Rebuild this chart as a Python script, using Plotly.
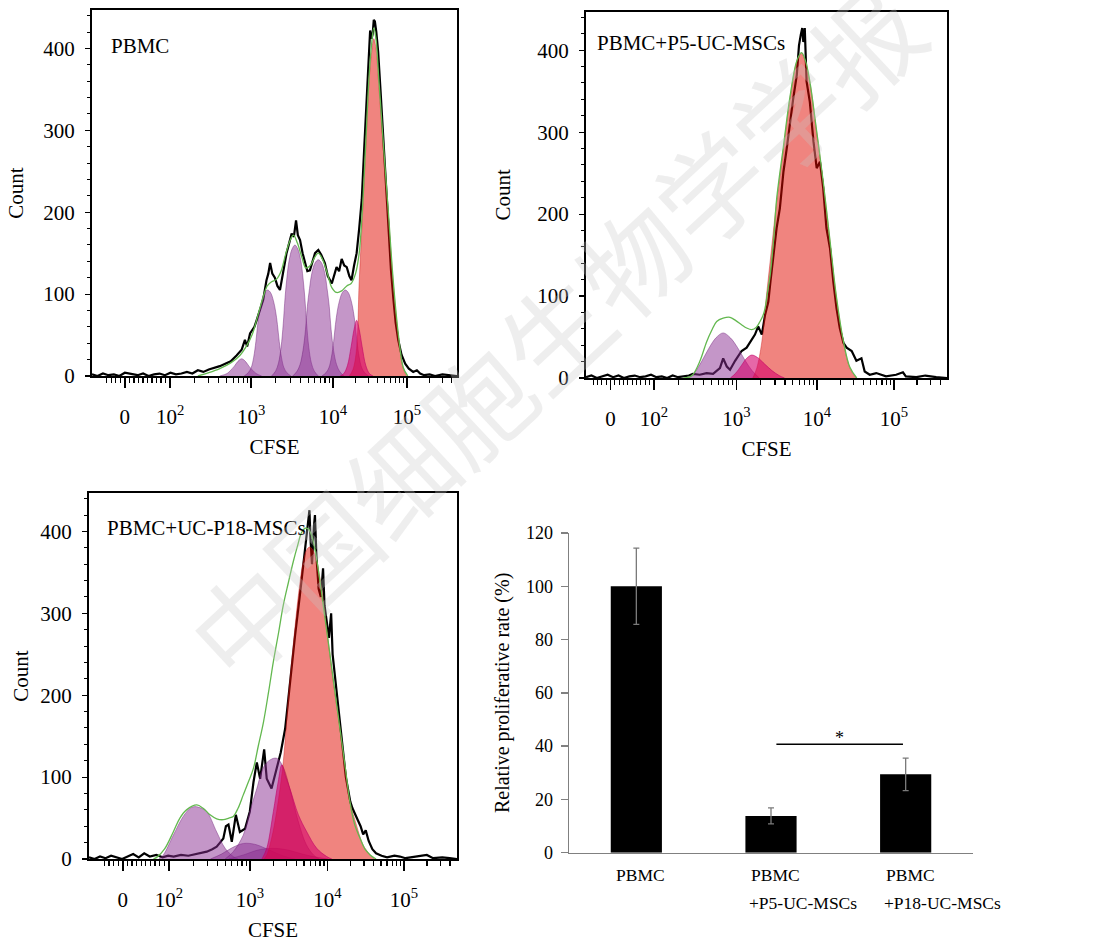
import numpy as np
import plotly.graph_objects as go

W, H = 1101, 942
FONT = "Liberation Serif"

# ---------------- DATA (display channel 0-1000 on CFSE axis, Count) ----------------
tick_text = ["0", "10<sup>2</sup>", "10<sup>3</sup>", "10<sup>4</sup>", "10<sup>5</sup>"]
p1_tick_pos = [90, 214, 436, 660, 863]
p2_tick_pos = [68, 188, 417, 640, 853]
p3_tick_pos = [92, 217, 437, 648, 856]

panel_labels = ["PBMC", "PBMC+P5-UC-MSCs", "PBMC+UC-P18-MSCs"]

# Panel 1: PBMC
p1_black = [(0,2),(15,0),(30,3),(45,1),(60,2),(75,0),(90,4),(110,2),(125,1),(140,3),(155,0),(170,2),
            (185,3),(200,1),(215,4),(230,2),(245,3),(260,5),(275,3),(290,7),(305,5),(320,8),(335,10),
            (350,12),(365,15),(380,18),(396,25),(410,32),(419,44),(425,36),(433,52),(445,60),(451,68),
            (460,80),(469,93),(478,117),(483,125),(488,138),(494,125),(501,120),(508,110),(515,105),
            (524,128),(533,150),(540,162),(547,174),(553,170),(559,190),(564,172),(570,166),(577,150),
            (584,138),(590,128),(597,129),(604,140),(611,150),(620,154),(628,148),(638,138),(646,122),
            (657,113),(664,125),(670,133),(677,128),(684,143),(691,135),(698,133),(705,122),(711,117),
            (718,135),(725,150),(732,180),(739,215),(746,280),(753,345),(758,390),(762,422),(766,412),
            (769,418),(772,435),(775,433),(779,420),(784,396),(791,345),(798,290),(805,230),(812,174),
            (819,130),(826,93),(832,65),(839,44),(848,26),(858,15),(868,9),(880,5),(890,7),(899,3),
            (910,1),(925,2),(940,0),(960,2),(980,1),(1000,0)]
p1_fit = [(290,0),(320,4),(350,9),(380,16),(405,25),(425,38),(440,52),(455,75),(470,98),(480,110),
          (492,115),(505,118),(518,128),(530,148),(542,165),(552,172),(563,162),(575,145),(586,132),
          (598,135),(610,145),(620,150),(632,142),(645,125),(657,108),(670,102),(684,104),(698,110),
          (710,113),(722,125),(732,150),(741,205),(750,285),(759,365),(766,405),(772,425),(778,412),
          (785,368),(798,285),(812,200),(825,118),(839,52),(853,10),(865,0)]
p1_gen_a = [(350,0),(370,3),(380,7),(390,12),(400,18),(410,21),(420,18),(430,12),(440,7),(450,3),(465,0)]
p1_gen_b = [(417,0),(428,4),(436,10),(443,23),(449,42),(454,63),(459,79),(465,92),(473,102),(481,105),
            (489,102),(497,92),(503,79),(508,63),(513,42),(519,23),(526,10),(534,4),(545,0)]
p1_gen_c = [(492,0),(503,6),(511,16),(518,35),(524,64),(529,96),(534,120),(540,141),(548,155),(556,160),
            (564,155),(572,141),(578,120),(583,96),(588,64),(594,35),(601,16),(609,6),(620,0)]
p1_gen_d = [(550,0),(562,6),(570,14),(578,31),(585,57),(590,85),(596,107),(602,125),(611,138),(620,142),
            (629,138),(638,125),(644,107),(650,85),(655,57),(662,31),(670,14),(678,6),(690,0)]
p1_gen_e = [(630,0),(641,4),(649,10),(656,23),(662,42),(667,63),(672,79),(678,92),(686,102),(694,105),
            (702,102),(710,92),(716,79),(721,63),(726,42),(732,23),(739,10),(747,4),(758,0)]
p1_gen_f = [(680,0),(690,3),(700,13),(710,36),(718,57),(725,68),(732,57),(740,36),(750,13),(760,3),(770,0)]
p1_parent = [(705,0),(715,8),(725,34),(732,115),(741,196),(750,278),(759,359),(766,395),(772,412),
             (778,400),(785,359),(798,278),(812,196),(825,115),(839,50),(853,9),(862,0)]

# Panel 2: PBMC+P5-UC-MSCs
p2_black = [(0,1),(15,3),(30,0),(45,2),(60,4),(75,1),(90,3),(105,0),(120,2),(135,3),(150,1),(165,2),
            (180,4),(195,1),(210,2),(225,0),(240,3),(255,1),(270,2),(285,3),(296,5),(315,4),(334,6),
            (352,5),(371,12),(380,24),(390,14),(399,10),(413,21),(431,33),(445,37),(454,43),(468,53),
            (477,63),(487,53),(496,77),(505,93),(511,118),(519,150),(528,183),(537,207),(547,252),
            (556,280),(565,313),(574,341),(584,370),(590,406),(595,419),(599,427),(602,410),(606,427),
            (611,362),(620,337),(630,289),(639,256),(648,264),(657,232),(666,183),(676,158),(685,118),
            (694,85),(703,61),(713,43),(722,37),(736,33),(749,21),(763,24),(772,8),(786,4),(804,6),
            (831,2),(859,4),(878,7),(886,2),(915,1),(940,3),(970,1),(1000,0)]
p2_fit = [(270,0),(285,1),(296,4),(315,20),(334,44),(348,58),(362,69),(380,73),(399,74),(415,70),
          (431,65),(445,61),(459,59),(472,62),(482,69),(490,76),(496,85),(503,105),(510,125),(520,170),
          (528,218),(547,283),(565,343),(584,387),(597,397),(608,387),(620,362),(639,301),(657,240),
          (676,167),(694,98),(713,45),(731,13),(750,0)]
p2_gen_a = [(285,0),(300,6),(320,20),(340,36),(360,49),(380,55),(400,49),(420,37),(440,22),(460,9),(480,0)]
p2_gen_b = [(400,0),(415,6),(430,15),(445,24),(459,28),(475,25),(495,17),(515,9),(535,3),(550,0)]
p2_parent = [(462,0),(473,12),(487,44),(500,101),(514,158),(528,215),(547,280),(565,341),(584,386),
             (597,396),(608,385),(620,361),(639,300),(657,239),(676,166),(694,97),(713,44),(731,12),(748,0)]

# Panel 3: PBMC+UC-P18-MSCs
p3_black = [(0,2),(15,0),(30,3),(45,1),(60,4),(75,2),(90,0),(105,3),(120,6),(135,2),(150,7),(165,3),
            (183,5),(200,2),(215,4),(230,3),(250,5),(270,4),(290,6),(301,7),(320,9),(335,12),(347,15),
            (356,20),(365,25),(372,40),(379,42),(388,21),(399,54),(410,33),(424,37),(437,58),(447,94),
            (456,118),(465,98),(476,134),(483,98),(496,86),(510,110),(521,130),(533,159),(546,216),
            (560,273),(573,322),(587,375),(596,410),(599,426),(602,390),(606,360),(611,405),(614,420),
            (618,370),(624,330),(630,320),(636,355),(640,310),(646,290),(652,270),(658,300),(662,250),
            (668,225),(674,200),(680,180),(686,150),(692,125),(698,100),(704,85),(710,70),(716,62),
            (722,55),(730,48),(738,40),(745,30),(752,35),(760,22),(770,12),(780,7),(795,4),(810,2),
            (830,4),(845,3),(860,1),(890,3),(918,5),(935,1),(960,2),(980,1),(1000,0)]
p3_fit = [(175,0),(184,2),(205,12),(229,33),(247,50),(265,60),(293,66),(310,62),(329,54),(347,49),
          (365,48),(380,50),(392,52),(405,62),(419,78),(433,94),(447,111),(460,138),(474,167),(488,204),
          (501,241),(515,276),(528,310),(542,338),(555,363),(567,383),(578,399),(588,404),(596,403),
          (605,395),(614,378),(628,338),(641,295),(655,249),(668,205),(682,159),(696,113),(709,70),
          (722,42),(736,26),(750,12),(764,5),(780,0)]
p3_gen_a = [(190,0),(202,5),(229,29),(256,52),(275,62),(288,64),(305,62),(320,58),(347,33),(370,13),
            (392,3),(405,0)]
p3_gen_b = [(330,0),(360,6),(390,14),(420,19),(450,18),(480,13),(510,7),(540,2),(560,0)]
p3_gen_c = [(380,0),(420,5),(460,11),(500,13),(540,11),(580,6),(620,2),(650,0)]
p3_gen_d = [(370,0),(392,9),(419,29),(437,58),(456,86),(474,112),(492,121),(510,123),(528,112),
            (548,82),(568,47),(590,18),(610,5),(625,0)]
p3_gen_e = [(470,0),(483,13),(501,58),(514,94),(524,115),(535,100),(546,86),(569,54),(592,33),
            (619,13),(646,3),(660,0)]
p3_parent = [(475,0),(483,5),(496,25),(510,58),(528,119),(542,200),(555,261),(569,322),(582,363),
             (592,378),(600,381),(610,376),(628,342),(646,281),(664,216),(682,159),(696,111),(709,70),
             (727,41),(745,17),(764,5),(775,0)]

# Bar chart
bar_groups = ["PBMC", "PBMC+P5-UC-MSCs", "PBMC+P18-UC-MSCs"]
bar_line1 = ["PBMC", "PBMC", "PBMC"]
bar_line2 = ["", "+P5-UC-MSCs", "+P18-UC-MSCs"]
bar_values = [100, 13.8, 29.4]
bar_errors = [14.3, 3.0, 6.1]
sig_x = [1.04, 1.98]
sig_y = [40.7, 40.7]
sig_label = "*"

watermark = "中国细胞生物学学报"

# ---------------- STYLE ----------------
C_GEN = "rgba(137,45,145,0.5)"
C_GEN_LINE = "rgba(110,30,120,0.55)"
C_MAG = "rgba(213,1,109,0.6)"
C_MAG_LINE = "rgba(190,0,100,0.7)"
C_PAR = "rgba(225,10,0,0.5)"
C_PAR_LINE = "rgba(200,20,20,0.5)"
C_FIT = "#63b84f"
FS = 21


def xy(pairs):
    return [p[0] for p in pairs], [p[1] for p in pairs]


def px_dom(x0, x1, y0, y1):
    return [x0 / W, x1 / W], [1 - y1 / H, 1 - y0 / H]


fig = go.Figure()

panels = [
    dict(black=p1_black, fit=p1_fit, gens=[p1_gen_a, p1_gen_b, p1_gen_c, p1_gen_d, p1_gen_e],
         mag=[p1_gen_f], par=p1_parent, ticks=p1_tick_pos, box=(92, 457, 10, 376),
         label=panel_labels[0], lab=(109, 45.7), ystand=14),
    dict(black=p2_black, fit=p2_fit, gens=[p2_gen_a], mag=[p2_gen_b], par=p2_parent,
         ticks=p2_tick_pos, box=(586, 947, 11.7, 378), label=panel_labels[1], lab=(595, 42.5), ystand=21),
    dict(black=p3_black, fit=p3_fit, gens=[p3_gen_a, p3_gen_b, p3_gen_c, p3_gen_d], mag=[p3_gen_e],
         par=p3_parent, ticks=p3_tick_pos, box=(89, 457, 493, 859), label=panel_labels[2],
         lab=(105, 527.5), ystand=6),
]


def minor_positions(tv):
    t0, t2, t3, t4, t5 = tv
    pos = []
    for k in range(1, 10):
        pos.append(t0 + (t2 - t0) * k / 10)
    for k in range(1, 5):
        pos.append(t0 - (t2 - t0) * k / 10)
    decs = [t2, t3, t4, t5, t5 + (t5 - t4)]
    for i in range(4):
        for k in range(2, 10):
            p = decs[i] + np.log10(k) * (decs[i + 1] - decs[i])
            if 0 < p < 1000:
                pos.append(p)
    return [p for p in pos if 0 < p < 1000]


def fill_trace(pairs, fc, lc, xa, ya):
    gx, gy = xy(pairs)
    return go.Scatter(x=gx, y=gy, mode="lines", fill="tozeroy", fillcolor=fc,
                      line=dict(color=lc, width=0.8, shape="spline"),
                      xaxis=xa, yaxis=ya, hoverinfo="skip")


for i, pnl in enumerate(panels, start=1):
    xa = "x" if i == 1 else f"x{i}"
    ya = "y" if i == 1 else f"y{i}"
    bx, by = xy(pnl["black"])
    fig.add_trace(go.Scatter(x=bx, y=by, mode="lines", line=dict(color="black", width=2.2),
                             xaxis=xa, yaxis=ya, hoverinfo="skip"))
    for g in pnl["gens"]:
        fig.add_trace(fill_trace(g, C_GEN, C_GEN_LINE, xa, ya))
    fig.add_trace(fill_trace(pnl["par"], C_PAR, C_PAR_LINE, xa, ya))
    for g in pnl["mag"]:
        fig.add_trace(fill_trace(g, C_MAG, C_MAG_LINE, xa, ya))
    fx, fy = xy(pnl["fit"])
    fig.add_trace(go.Scatter(x=fx, y=fy, mode="lines", line=dict(color=C_FIT, width=1.3, shape="spline"),
                             xaxis=xa, yaxis=ya, hoverinfo="skip"))

    x0, x1, y0, y1 = pnl["box"]
    xd, yd = px_dom(x0, x1, y0, y1)
    axkey = "xaxis" if i == 1 else f"xaxis{i}"
    aykey = "yaxis" if i == 1 else f"yaxis{i}"
    fig.layout[axkey] = dict(
        domain=xd, anchor=ya, range=[0, 1000], showgrid=False, zeroline=False, automargin=False,
        showline=True, linecolor="black", linewidth=2, mirror=True,
        ticks="outside", ticklen=10, tickwidth=1.5, tickcolor="black",
        tickmode="array", tickvals=pnl["ticks"], ticktext=tick_text,
        tickfont=dict(family=FONT, size=FS, color="black"), ticklabelstandoff=11,
        minor=dict(tickmode="array", tickvals=minor_positions(pnl["ticks"]), ticks="outside",
                   ticklen=5, tickwidth=1.2, tickcolor="black"),
        title=dict(text="CFSE", font=dict(family=FONT, size=FS, color="black"), standoff=11),
    )
    fig.layout[aykey] = dict(
        domain=yd, anchor=xa, range=[0, 447], showgrid=False, zeroline=False, automargin=False,
        showline=True, linecolor="black", linewidth=2, mirror=True,
        ticks="outside", ticklen=5, tickwidth=1.2, tickcolor="black",
        tickmode="array", tickvals=[0, 100, 200, 300, 400],
        tickfont=dict(family=FONT, size=FS, color="black"), ticklabelstandoff=6,
        minor=dict(dtick=20, ticks="outside", ticklen=3, tickwidth=1, tickcolor="black"),
        title=dict(text="Count", font=dict(family=FONT, size=FS, color="black"), standoff=pnl["ystand"]),
    )
    fig.add_annotation(text=pnl["label"], x=(pnl["lab"][0] - x0) / (x1 - x0),
                       y=(y1 - pnl["lab"][1]) / (y1 - y0), xref=f"{xa} domain", yref=f"{ya} domain",
                       xanchor="left", yanchor="middle", showarrow=False,
                       font=dict(family=FONT, size=FS, color="black"))

# ---------------- BAR PANEL ----------------
bxd, byd = px_dom(569, 973, 533, 852.7)
cats = list(range(len(bar_groups)))
fig.add_trace(go.Bar(x=cats, y=bar_values, width=0.38, marker=dict(color="black", line=dict(width=0)),
                     error_y=dict(type="data", array=bar_errors, visible=True, color="#7a7a7a",
                                  thickness=1.3, width=3),
                     xaxis="x4", yaxis="y4", hoverinfo="skip"))
fig.add_trace(go.Scatter(x=sig_x, y=sig_y, mode="lines", line=dict(color="black", width=1.5),
                         xaxis="x4", yaxis="y4", hoverinfo="skip"))
fig.add_annotation(text=sig_label, x=sum(sig_x) / 2, y=sig_y[0], xref="x4", yref="y4",
                   yanchor="middle", yshift=6, showarrow=False,
                   font=dict(family=FONT, size=18, color="black"))

fig.layout["xaxis4"] = dict(domain=bxd, anchor="y4", range=[-0.5, 2.5], showgrid=False, zeroline=False,
                            automargin=False, showline=True, linecolor="#808080", linewidth=1.5,
                            ticks="", showticklabels=False)
fig.layout["yaxis4"] = dict(domain=byd, anchor="x4", range=[0, 120], showgrid=False, zeroline=False,
                            automargin=False, showline=True, linecolor="#808080", linewidth=1.5,
                            ticks="outside", ticklen=7, tickcolor="#808080", tickwidth=1.5,
                            tickvals=[0, 20, 40, 60, 80, 100, 120],
                            tickfont=dict(family=FONT, size=18, color="black"), ticklabelstandoff=4,
                            title=dict(text="Relative proliferative rate (%)",
                                       font=dict(family=FONT, size=20, color="black"), standoff=11))

for c, l1, l2 in zip(cats, bar_line1, bar_line2):
    fig.add_annotation(text=l1, x=c, y=1 - 875 / H, xref="x4", yref="paper", xanchor="left",
                       xshift=-22, yanchor="middle", showarrow=False,
                       font=dict(family=FONT, size=17.5, color="black"))
    if l2:
        fig.add_annotation(text=l2, x=c, y=1 - 903 / H, xref="x4", yref="paper", xanchor="left",
                           xshift=-24, yanchor="middle", showarrow=False,
                           font=dict(family=FONT, size=17.5, color="black"))

# watermark
fig.add_annotation(text=watermark, x=553 / W, y=1 - 330 / H, xref="paper", yref="paper",
                   showarrow=False, textangle=-43,
                   font=dict(family="Noto Sans CJK SC", size=106, color="rgba(200,200,200,0.3)"))

fig.update_layout(template="none", width=W, height=H, margin=dict(l=0, r=0, t=0, b=0), showlegend=False,
                  paper_bgcolor="white", plot_bgcolor="white", font=dict(family=FONT, color="black"))

fig.write_html("out.html", config={"displayModeBar": False, "staticPlot": True},
               post_script="document.body.style.margin='0px';document.body.style.padding='0px';")
